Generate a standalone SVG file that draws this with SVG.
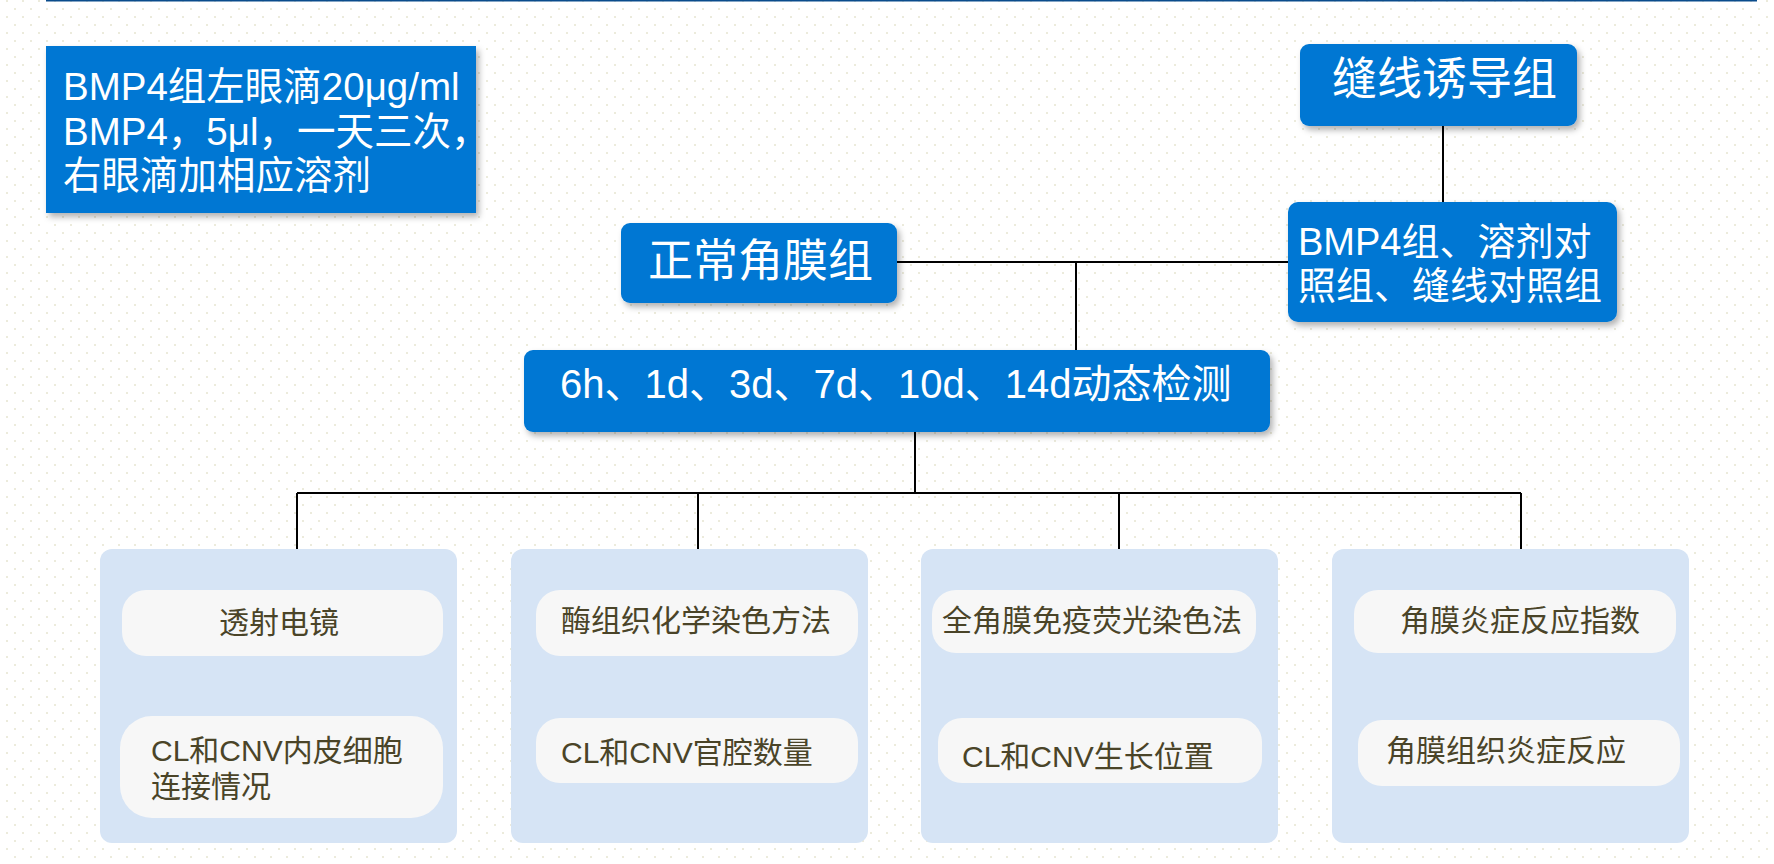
<svg xmlns="http://www.w3.org/2000/svg" width="1774" height="864" viewBox="0 0 1774 864">
<defs>
<pattern id="dots" width="16" height="16" patternUnits="userSpaceOnUse">
<rect x="6" y="0" width="2" height="2" fill="#ECEBDC"/>
<rect x="14" y="8" width="2" height="2" fill="#ECEBDC"/>
</pattern>
<filter id="sh" x="-10%" y="-20%" width="130%" height="150%">
<feDropShadow dx="3" dy="4" stdDeviation="3" flood-color="#000" flood-opacity="0.3"/>
</filter>
</defs>
<style>
.blue{fill:#0077D3;filter:url(#sh);}
.cont{fill:#D6E4F5;}
.inner{fill:#F7F7F7;}
.wt{fill:#FFFFFF;font-family:"Liberation Sans","Noto Sans CJK SC",sans-serif;}
.dt{fill:#4A4428;font-family:"Liberation Sans","Noto Sans CJK SC",sans-serif;font-size:30px;}
.ln{stroke:#000;stroke-width:2;fill:none;}
</style>
<rect width="1774" height="864" fill="#FFFFFF"/>
<rect width="1774" height="864" fill="url(#dots)"/>
<line x1="46" y1="0.5" x2="1757" y2="0.5" stroke="#0A4C8C" stroke-width="2"/>

<g id="connectors">
<path class="ln" d="M1443,126 V202"/>
<path class="ln" d="M897,262 H1288"/>
<path class="ln" d="M1076,262 V350"/>
<path class="ln" d="M915,432 V493"/>
<path class="ln" d="M297,493 H1521"/>
<path class="ln" d="M297,493 V549 M698,493 V549 M1119,493 V549 M1521,493 V549"/>
<path class="ln" d="M295,661 V714 M696,661 V714 M1119,661 V714 M1521,661 V714"/>
</g>

<g id="note">
<rect class="blue" x="46" y="46" width="430" height="167"/>
<text class="wt" font-size="38.5"><tspan x="63" y="100">BMP4组左眼滴20μg/ml</tspan><tspan x="63" y="145">BMP4，5μl，一天三次，</tspan><tspan x="63" y="189">右眼滴加相应溶剂</tspan></text>
</g>

<g id="suture">
<rect class="blue" x="1300" y="44" width="277" height="82" rx="9"/>
<text class="wt" font-size="45" x="1332" y="95">缝线诱导组</text>
</g>

<g id="groups">
<rect class="blue" x="1288" y="202" width="329" height="120" rx="10"/>
<text class="wt" font-size="38"><tspan x="1298" y="255">BMP4组、溶剂对</tspan><tspan x="1298" y="299">照组、缝线对照组</tspan></text>
</g>

<g id="normal">
<rect class="blue" x="621" y="223" width="276" height="80" rx="9"/>
<text class="wt" font-size="45" x="648" y="277">正常角膜组</text>
</g>

<g id="timeline">
<rect class="blue" x="524" y="350" width="746" height="82" rx="9"/>
<text class="wt" font-size="40" x="560" y="398">6h、1d、3d、7d、10d、14d动态检测</text>
</g>

<g id="col1">
<rect class="cont" x="100" y="549" width="357" height="294" rx="12"/>
<g id="tem">
<rect class="inner" x="122" y="590" width="321" height="66" rx="24"/>
<text class="dt" x="219" y="633">透射电镜</text>
</g>
<g id="junction">
<rect class="inner" x="120" y="716" width="323" height="102" rx="32"/>
<text class="dt"><tspan x="151" y="761">CL和CNV内皮细胞</tspan><tspan x="151" y="797">连接情况</tspan></text>
</g>
</g>

<g id="col2">
<rect class="cont" x="511" y="549" width="357" height="294" rx="12"/>
<g id="enzyme">
<rect class="inner" x="536" y="590" width="322" height="66" rx="24"/>
<text class="dt" x="561" y="631">酶组织化学染色方法</text>
</g>
<g id="lumen">
<rect class="inner" x="536" y="718" width="322" height="65" rx="24"/>
<text class="dt" x="561" y="763">CL和CNV官腔数量</text>
</g>
</g>

<g id="col3">
<rect class="cont" x="921" y="549" width="357" height="294" rx="12"/>
<g id="ifl">
<rect class="inner" x="932" y="590" width="324" height="63" rx="24"/>
<text class="dt" x="942" y="631">全角膜免疫荧光染色法</text>
</g>
<g id="position">
<rect class="inner" x="938" y="718" width="324" height="65" rx="24"/>
<text class="dt" x="962" y="767">CL和CNV生长位置</text>
</g>
</g>

<g id="col4">
<rect class="cont" x="1332" y="549" width="357" height="294" rx="12"/>
<g id="index">
<rect class="inner" x="1354" y="590" width="322" height="63" rx="24"/>
<text class="dt" x="1400" y="631">角膜炎症反应指数</text>
</g>
<g id="inflam">
<rect class="inner" x="1358" y="720" width="322" height="66" rx="24"/>
<text class="dt" x="1386" y="761">角膜组织炎症反应</text>
</g>
</g>
</svg>
